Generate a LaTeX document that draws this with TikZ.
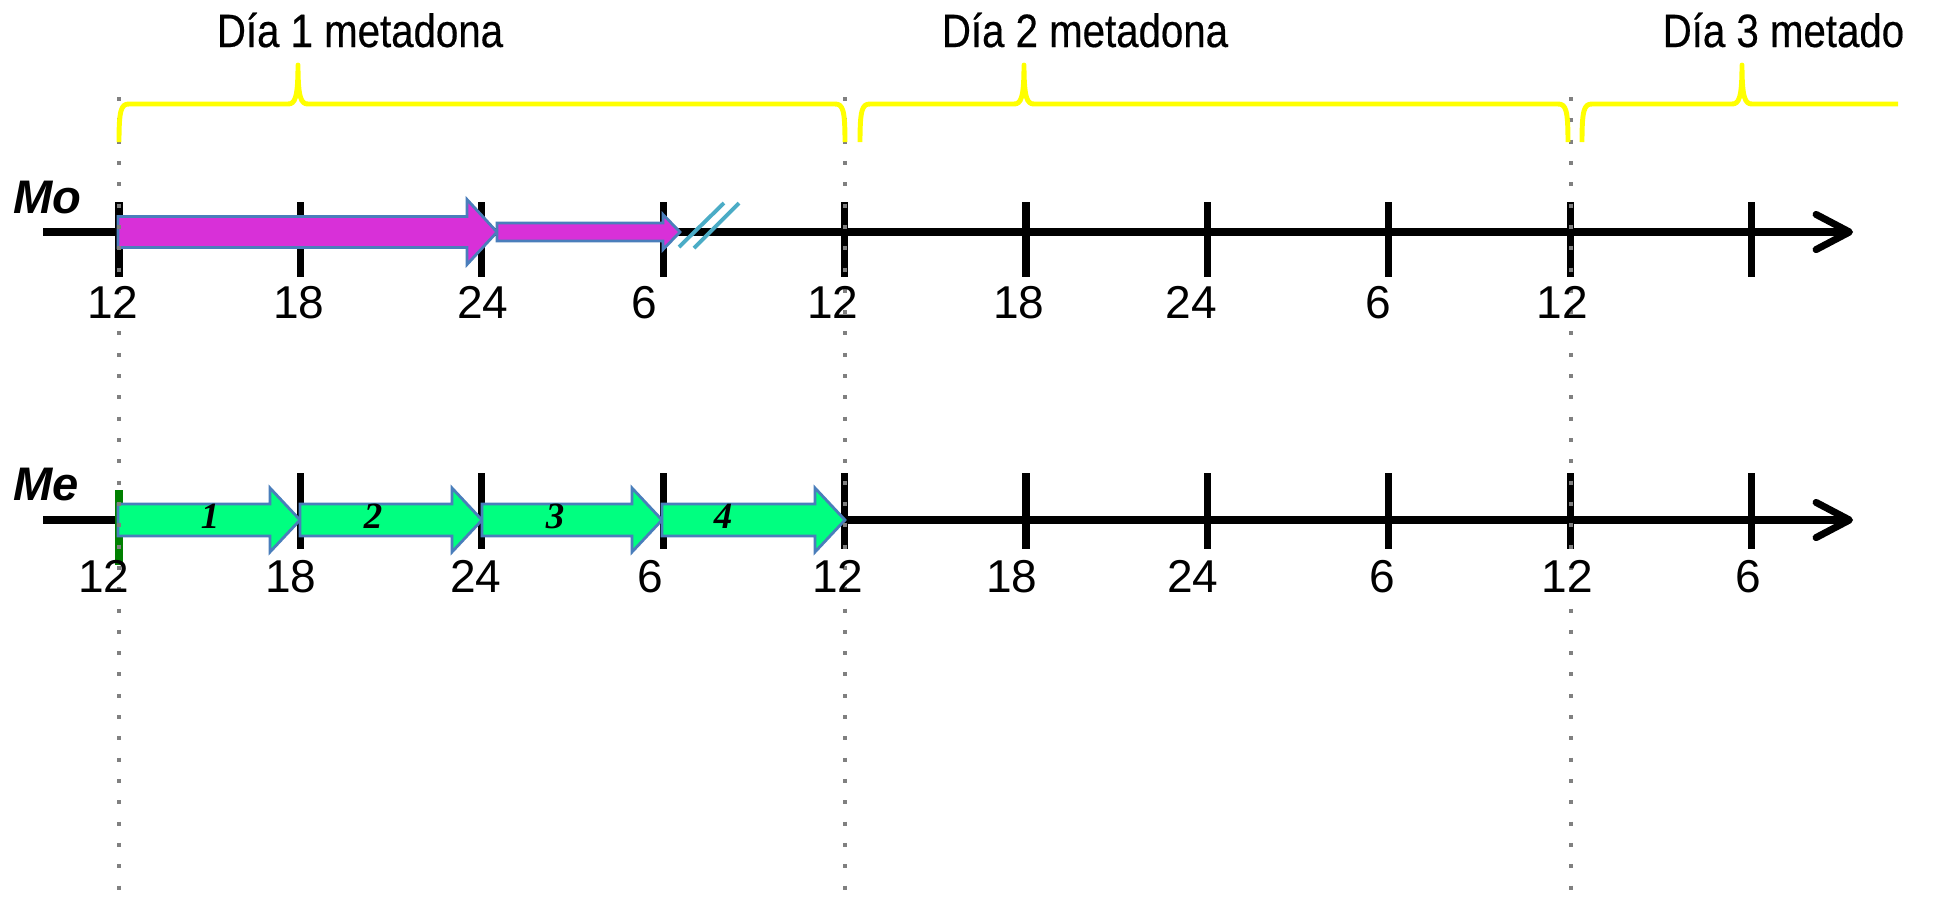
\documentclass[tikz,border=0pt]{standalone}
\usepackage{fontspec}
\setmainfont{Liberation Sans}
\newfontfamily\narrowfont[FakeStretch=0.86, FakeBold=0.4]{Liberation Sans}
\newfontfamily\dosefont{Liberation Serif}
\usetikzlibrary{arrows.meta}
\definecolor{custom-magenta}{RGB}{216, 48, 216}
\definecolor{custom-green}{RGB}{0, 255, 128}
\definecolor{custom-blue}{RGB}{74, 126, 187}
\definecolor{custom-cyan}{RGB}{75, 172, 198}
\definecolor{custom-yellow}{RGB}{255, 255, 0}
\definecolor{custom-gray}{RGB}{128, 128, 128}
\definecolor{custom-darkgreen}{RGB}{0, 128, 0}

\tikzset{
  timeaxis/.style={line width=2pt, -{Straight Barb[length=9.5pt, width=10pt, round]}},
  hourtick/.style={line width=2pt},
  hourlabel/.style={anchor=base, inner sep=0pt, font=\fontsize{13.1}{15}\selectfont},
  drugname/.style={anchor=base west, inner sep=0pt, font=\fontsize{13.4}{15}\selectfont\bfseries\itshape},
  daylabel/.style={anchor=base, inner sep=0pt, font=\fontsize{13.3}{15}\selectfont\narrowfont},
  dosenum/.style={inner sep=0pt, font=\fontsize{10.5}{12}\selectfont\dosefont\bfseries\itshape},
  mo dose/.style={fill=custom-magenta, draw=custom-blue, line width=0.8pt},
  me dose/.style={fill=custom-green, draw=custom-blue, line width=0.8pt},
  daybrace/.style={draw=custom-yellow, line width=1.4pt, line join=round},
  midnight/.style={draw=custom-gray, line width=0.04cm, dash pattern=on 0.04cm off 0.173cm},
  slash/.style={draw=custom-cyan, line width=1.1pt}
}

% block arrow: style, x0, x1, y, shaft half, head half, head length
\newcommand{\blockarrow}[7]{%
  \filldraw[#1] (#2,#4-#5) -- (#3-#7,#4-#5) -- (#3-#7,#4-#6) -- (#3,#4)
    -- (#3-#7,#4+#6) -- (#3-#7,#4+#5) -- (#2,#4+#5) -- cycle;}

% yellow brace: left end, tip, right end
\newcommand{\dayspan}[3]{%
  \draw[daybrace] (#1,142) .. controls (#1,110) and (#1+2,104) .. (#1+10,104)
    -- (#2-10,104) .. controls (#2-3,104) and (#2,98) .. (#2,65)
    .. controls (#2,98) and (#2+3,104) .. (#2+10,104)
    -- (#3-10,104) .. controls (#3-2,104) and (#3,110) .. (#3,142);}

\begin{document}
\begin{tikzpicture}[x=0.01cm, y=-0.01cm]
\useasboundingbox (0,0) rectangle (1935,905);

% axes
\draw[timeaxis] (43,232) -- (1853,232);
\draw[timeaxis] (43,520) -- (1853,520);
\foreach \x in {119,300.4,481.8,663.2,844.6,1026,1207.4,1388.8,1570.2,1751.6}
  \draw[hourtick] (\x,202) -- (\x,277);
\foreach \x in {300.4,481.8,663.2,844.6,1026,1207.4,1388.8,1570.2,1751.6}
  \draw[hourtick] (\x,473) -- (\x,549);
\fill[custom-darkgreen] (115,490) rectangle (123,565);

% doses
\blockarrow{mo dose}{118}{497}{232}{15.5}{32.5}{30}
\blockarrow{mo dose}{497}{680}{232}{9}{17.5}{17}
\draw[slash] (679,247) -- (724,203);
\draw[slash] (694,248) -- (739,203);
\blockarrow{me dose}{118}{300}{520}{16}{32}{30}
\blockarrow{me dose}{300}{482}{520}{16}{32}{30}
\blockarrow{me dose}{482}{662}{520}{16}{32}{30}
\blockarrow{me dose}{662}{845}{520}{16}{32}{30}
\node[dosenum] (dose1) at (210,516) {1};
\node[dosenum] (dose2) at (373,516) {2};
\node[dosenum] (dose3) at (555,516) {3};
\node[dosenum] (dose4) at (723,516) {4};

% day limits
\foreach \x in {119,845,1571}
  \draw[midnight] (\x,97) -- (\x,890);

\dayspan{119}{298}{845}
\dayspan{860}{1024}{1568}
\draw[daybrace] (1582,142) .. controls (1582,110) and (1584,104) .. (1592,104)
  -- (1732,104) .. controls (1739,104) and (1742,98) .. (1742,65)
  .. controls (1742,98) and (1745,104) .. (1752,104) -- (1898,104);

\node[daylabel] (dia1) at (360,47) {Día 1 metadona};
\node[daylabel] (dia2) at (1085,47) {Día 2 metadona};
\node[daylabel, anchor=base west] (dia3) at (1662,47) {Día 3 metado};

\node[drugname] (mo) at (13,213) {Mo};
\node[drugname] (me) at (13,500) {Me};

\foreach \x/\h [count=\i] in {113/12,299/18,483/24,644/6,833/12,1019/18,1191/24,1378/6,1562/12}
  \node[hourlabel] (mo-\i) at (\x,318) {\h};
\foreach \x/\h [count=\i] in {104/12,291/18,476/24,650/6,838/12,1012/18,1193/24,1382/6,1567/12,1748/6}
  \node[hourlabel] (me-\i) at (\x,592) {\h};
\end{tikzpicture}
\end{document}
